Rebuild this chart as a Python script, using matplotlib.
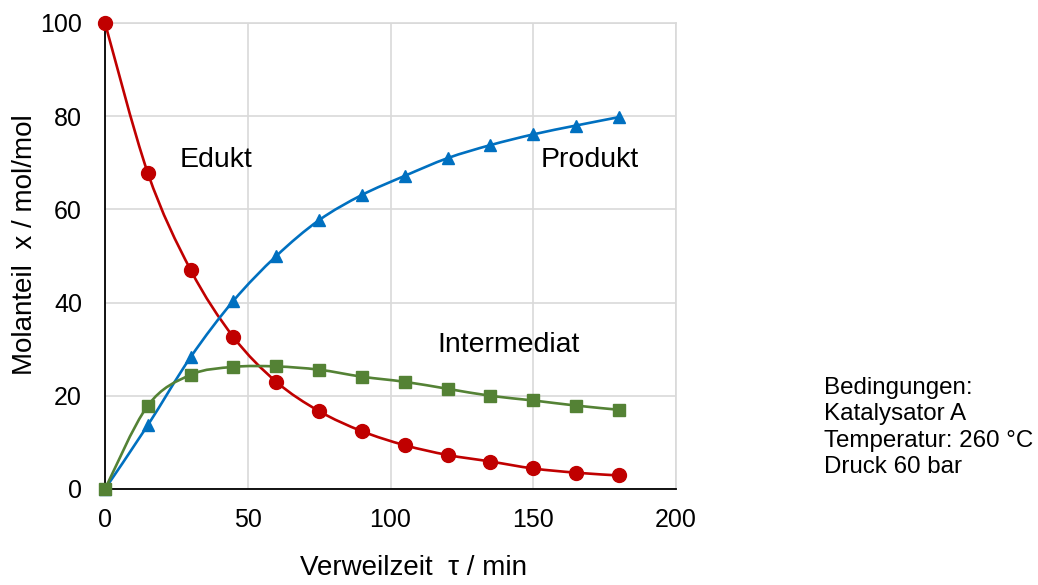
import numpy as np
import matplotlib
matplotlib.use("Agg")
import matplotlib.pyplot as plt
from matplotlib.path import Path
from matplotlib.patches import PathPatch

plt.rcParams['font.family'] = ['Liberation Sans', 'DejaVu Sans']

time_min = [0, 15, 30, 45, 60, 75, 90, 105, 120, 135, 150, 165, 180]
edukt = [100, 67.8, 47.0, 32.6, 23.0, 16.7, 12.4, 9.4, 7.3, 5.9, 4.4, 3.5, 2.9]
produkt = [0, 13.7, 28.3, 40.4, 50.0, 57.7, 63.1, 67.2, 71.0, 73.8, 76.1, 78.0, 79.8]
intermediat = [0, 17.9, 24.5, 26.2, 26.3, 25.6, 24.1, 23.0, 21.5, 20.0, 19.0, 17.9, 17.0]

x_ticks = [0, 50, 100, 150, 200]
y_ticks = [0, 20, 40, 60, 80, 100]

RED = '#C00000'
BLUE = '#0070C0'
GREEN = '#548235'


def smooth_path(xs, ys):
    """Excel-style smoothed line: cubic Bezier segments through the points."""
    pts = np.column_stack([xs, ys]).astype(float)
    n = len(pts)
    verts = [pts[0]]
    codes = [Path.MOVETO]
    for i in range(n - 1):
        p0 = pts[i - 1] if i > 0 else pts[i]
        p1 = pts[i]
        p2 = pts[i + 1]
        p3 = pts[i + 2] if i + 2 < n else pts[i + 1]
        c1 = p1 + (p2 - p0) / 6.0
        c2 = p2 - (p3 - p1) / 6.0
        verts += [c1, c2, p2]
        codes += [Path.CURVE4] * 3
    return Path(verts, codes)


fig = plt.figure(figsize=(10.38, 5.85), dpi=100)
ax = fig.add_axes([105 / 1038, 1 - 489 / 585, (676 - 105) / 1038, (489 - 23) / 585])
ax.set_xlim(0, 200)
ax.set_ylim(0, 100)

ax.set_xticks(x_ticks)
ax.set_yticks(y_ticks)
ax.grid(True, color='#d9d9d9', linewidth=1.2)
ax.set_axisbelow(True)
ax.tick_params(length=0, labelsize=18)
ax.tick_params(axis='y', pad=16.5)
ax.tick_params(axis='x', pad=14)
for s in ['top', 'right']:
    ax.spines[s].set_color('#d9d9d9')
    ax.spines[s].set_linewidth(1.2)
for s in ['left', 'bottom']:
    ax.spines[s].set_color('black')
    ax.spines[s].set_linewidth(1.3)
    ax.spines[s].set_zorder(2.5)

series = [
    (edukt, RED, 'o', 10),
    (produkt, BLUE, '^', 9),
    (intermediat, GREEN, 's', 8),
]
for k, (ys, col, mk, ms) in enumerate(series):
    patch = PathPatch(smooth_path(time_min, ys), facecolor='none', edgecolor=col,
                      linewidth=1.9, zorder=3 + k, clip_on=False)
    ax.add_patch(patch)
    ax.plot(time_min, ys, linestyle='none', marker=mk, color=col, markersize=ms,
            zorder=3.5 + k, clip_on=False)

ax.text(38.9, 70.6, 'Edukt', fontsize=20.5, ha='center', va='center')
ax.text(169.9, 70.6, 'Produkt', fontsize=20.5, ha='center', va='center')
ax.text(141.5, 30.9, 'Intermediat', fontsize=20.5, ha='center', va='center')

fig.text(413 / 1038, 1 - 568 / 585, 'Verweilzeit  \u03c4 / min', fontsize=20,
         ha='center', va='center')
fig.text(25 / 1038, 1 - 245 / 585, 'Molanteil  x / mol/mol', fontsize=20,
         ha='center', va='center', rotation=90)

fig.text(824 / 1038, 1 - 377 / 585,
         'Bedingungen:\nKatalysator A\nTemperatur: 260 \u00b0C\nDruck 60 bar',
         fontsize=17.4, ha='left', va='top', linespacing=1.25)

fig.savefig('out.png', dpi=100)
